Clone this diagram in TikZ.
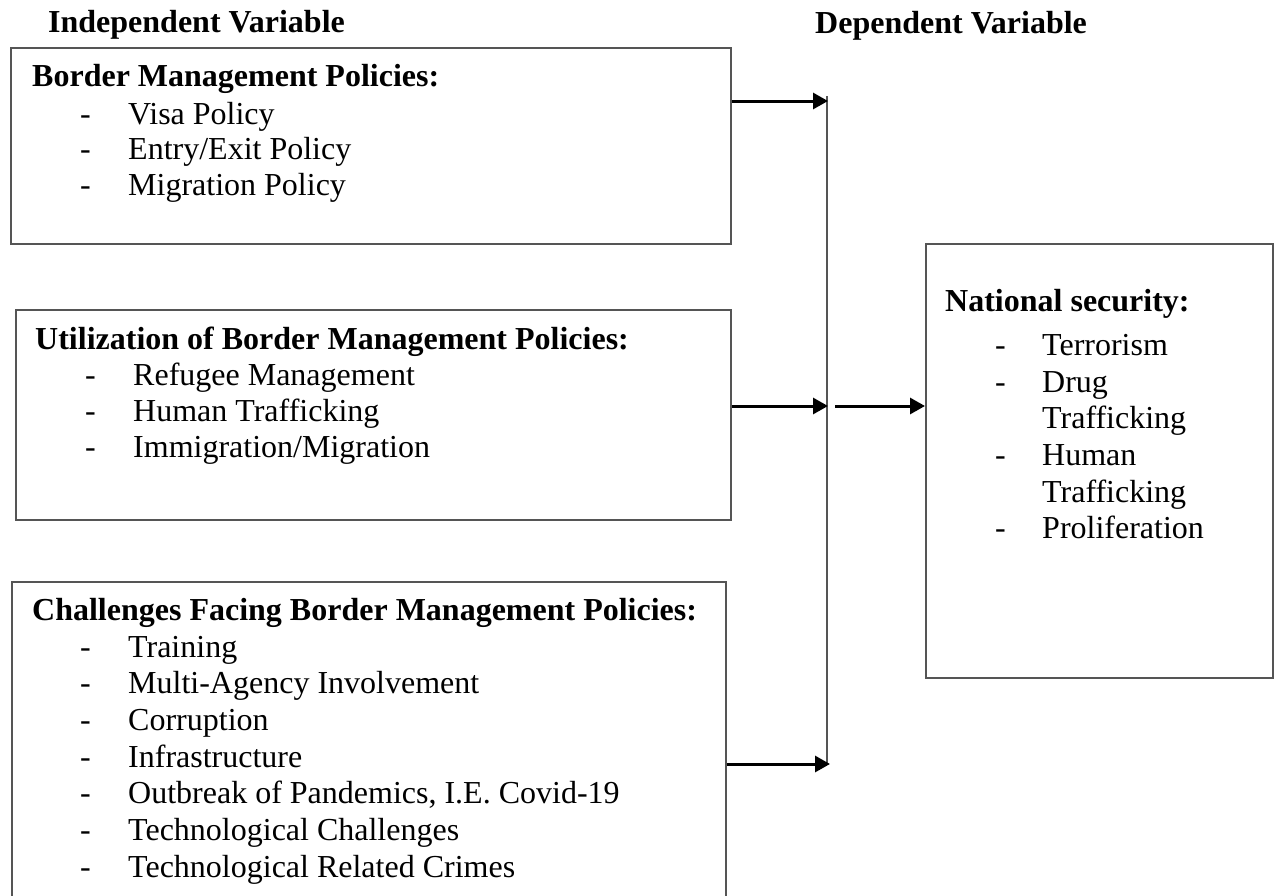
\documentclass[tikz,border=0pt]{standalone}
\usepackage{fontspec}
\setmainfont{Liberation Serif}
\usetikzlibrary{arrows.meta}
\definecolor{boxgray}{RGB}{85,85,85}
\tikzset{
  box/.style={draw=boxgray, line width=2pt, rectangle, anchor=north west, inner sep=0pt},
  txt/.style={anchor=base west, inner sep=0pt, font=\fontsize{32pt}{36pt}\selectfont},
  hd/.style={anchor=base west, inner sep=0pt, font=\fontsize{32pt}{36pt}\selectfont\bfseries},
  arr/.style={draw=black, line width=3pt, -{Triangle[length=15pt,width=16pt]}},
  vline/.style={draw=boxgray, line width=2pt}
}
\begin{document}
\begin{tikzpicture}[x=1pt,y=-1pt]
\useasboundingbox (0,0) rectangle (1275,895);
% headers
\node[hd] (hIV) at (48,32) {Independent Variable};
\node[hd] (hDV) at (815,33) {Dependent Variable};
% boxes
\node[box, minimum width=720pt, minimum height=196pt] (b1) at (10,47) {};
\node[box, minimum width=715pt, minimum height=210pt] (b2) at (15,309) {};
\node[box, minimum width=714pt, minimum height=330pt] (b3) at (11,581) {};
\node[box, minimum width=347pt, minimum height=434pt] (b4) at (925,243) {};
% box 1 text
\node[hd] (t1h) at (32,86) {Border Management Policies:};
\node[txt] (t1d1) at (80,124) {-};
\node[txt] (t1a) at (128,124) {Visa Policy};
\node[txt] (t1d2) at (80,159) {-};
\node[txt] (t1b) at (128,159) {Entry/Exit Policy};
\node[txt] (t1d3) at (80,195) {-};
\node[txt] (t1c) at (128,195) {Migration Policy};
% box 2 text
\node[hd] (t2h) at (35,349) {Utilization of Border Management Policies:};
\node[txt] (t2d1) at (85,385) {-};
\node[txt] (t2a) at (133,385) {Refugee Management};
\node[txt] (t2d2) at (85,421) {-};
\node[txt] (t2b) at (133,421) {Human Trafficking};
\node[txt] (t2d3) at (85,457) {-};
\node[txt] (t2c) at (133,457) {Immigration/Migration};
% box 3 text
\node[hd] (t3h) at (32,620) {Challenges Facing Border Management Policies:};
\node[txt] (t3d1) at (80,657) {-};
\node[txt] (t3a) at (128,657) {Training};
\node[txt] (t3d2) at (80,693) {-};
\node[txt] (t3b) at (128,693) {Multi-Agency Involvement};
\node[txt] (t3d3) at (80,730) {-};
\node[txt] (t3c) at (128,730) {Corruption};
\node[txt] (t3d4) at (80,767) {-};
\node[txt] (t3e) at (128,767) {Infrastructure};
\node[txt] (t3d5) at (80,803) {-};
\node[txt] (t3f) at (128,803) {Outbreak of Pandemics, I.E. Covid-19};
\node[txt] (t3d6) at (80,840) {-};
\node[txt] (t3g) at (128,840) {Technological Challenges};
\node[txt] (t3d7) at (80,877) {-};
\node[txt] (t3h2) at (128,877) {Technological Related Crimes};
% box 4 text
\node[hd] (t4h) at (945,311) {National security:};
\node[txt] (t4d1) at (995,355) {-};
\node[txt] (t4a) at (1042,355) {Terrorism};
\node[txt] (t4d2) at (995,392) {-};
\node[txt] (t4b) at (1042,392) {Drug};
\node[txt] (t4b2) at (1042,428) {Trafficking};
\node[txt] (t4d3) at (995,465) {-};
\node[txt] (t4c) at (1042,465) {Human};
\node[txt] (t4c2) at (1042,502) {Trafficking};
\node[txt] (t4d4) at (995,538) {-};
\node[txt] (t4e) at (1042,538) {Proliferation};
% connectors
\coordinate (vtop) at (827,96);
\coordinate (vbot) at (827,764);
\coordinate (j1) at (828,101);
\coordinate (j2) at (828,406);
\coordinate (j2b) at (835,406);
\coordinate (j3) at (830,764);
\draw[vline] (vtop) -- (vbot);
\draw[arr] (b1.east |- j1) -- (j1);
\draw[arr] (b2.east |- j2) -- (j2);
\draw[arr] (j2b) -- (b4.west |- j2b);
\draw[arr] (b3.east |- j3) -- (j3);
\end{tikzpicture}
\end{document}
